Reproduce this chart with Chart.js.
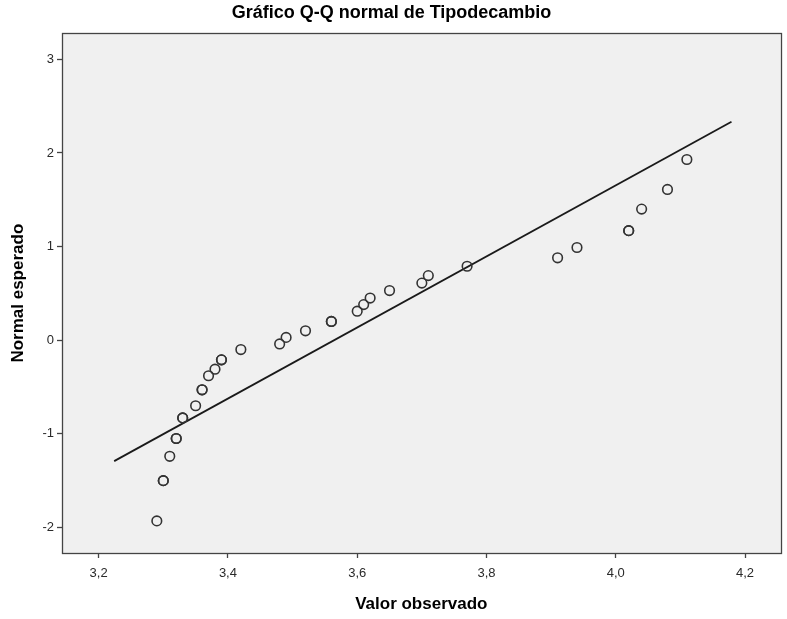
<!DOCTYPE html>
<html>
<head>
<meta charset="utf-8">
<script src="https://cdn.jsdelivr.net/npm/chart.js@4"></script>
<style>
  body { margin: 0; background: #fff; }
  canvas { display: block; }
</style>
</head>
<body>
<canvas id="qq" width="787" height="619"></canvas>
<script>
// observed values (x) and expected normal (y), duplicates drawn twice like SPSS does
const obsX = [3.29, 3.30, 3.30, 3.31, 3.32, 3.32, 3.33, 3.33, 3.35, 3.36, 3.36, 3.37, 3.38, 3.39, 3.39,
              3.42, 3.48, 3.49, 3.52, 3.56, 3.56, 3.60, 3.61, 3.62, 3.65, 3.70, 3.71, 3.77, 3.91, 3.94,
              4.02, 4.02, 4.04, 4.08, 4.11];
const expY = [-1.93, -1.50, -1.50, -1.24, -1.05, -1.05, -0.83, -0.83, -0.70, -0.53, -0.53, -0.38, -0.31, -0.21, -0.21,
              -0.10, -0.04, 0.03, 0.10, 0.20, 0.20, 0.31, 0.38, 0.45, 0.53, 0.61, 0.69, 0.79, 0.88, 0.99,
              1.17, 1.17, 1.40, 1.61, 1.93];

// reference line end points
const lineX = [3.224, 4.179];
const lineY = [-1.292, 2.333];

const xTicks = [3.2, 3.4, 3.6, 3.8, 4.0, 4.2];
const yTicks = [-2, -1, 0, 1, 2, 3];

const FONT = '"Liberation Sans", Arial, sans-serif';

const plotBox = {
    id: 'plotBox',
    beforeDraw(chart) {
        const { ctx, chartArea: a } = chart;
        ctx.save();
        ctx.fillStyle = '#F0F0F0';
        ctx.fillRect(a.left, a.top, a.right - a.left, a.bottom - a.top);
        ctx.restore();
    },
    afterDraw(chart) {
        const { ctx, chartArea: a } = chart;
        ctx.save();
        ctx.strokeStyle = '#444';
        ctx.lineWidth = 1.3;
        ctx.strokeRect(Math.round(a.left) + 0.5, Math.round(a.top) + 0.5,
                       Math.round(a.right - a.left), Math.round(a.bottom - a.top));
        ctx.restore();
    }
};

new Chart(document.getElementById('qq'), {
    type: 'scatter',
    data: {
        datasets: [
            {
                data: obsX.map((x, i) => ({ x: x, y: expY[i] })),
                pointStyle: 'circle',
                pointRadius: 4.8,
                backgroundColor: 'rgba(0,0,0,0)',
                borderColor: '#333',
                borderWidth: 1.6
            },
            {
                type: 'line',
                data: lineX.map((x, i) => ({ x: x, y: lineY[i] })),
                showLine: true,
                pointRadius: 0,
                borderColor: '#1a1a1a',
                borderWidth: 1.8,
                fill: false
            }
        ]
    },
    options: {
        responsive: false,
        animation: false,
        layout: { padding: { left: 0, right: 4, top: 0, bottom: 0 } },
        plugins: {
            legend: { display: false },
            tooltip: { enabled: false },
            title: {
                display: true,
                text: 'Gráfico Q-Q normal de Tipodecambio',
                color: '#000',
                font: { family: FONT, size: 18, weight: 'bold' },
                padding: { top: 2, bottom: 9.7 }
            }
        },
        scales: {
            x: {
                type: 'linear',
                min: 3.1433,
                max: 4.255,
                afterBuildTicks: s => { s.ticks = xTicks.map(v => ({ value: v })); },
                afterFit: s => { s.height = 66; },
                ticks: {
                    color: '#2a2a2a',
                    font: { family: FONT, size: 13 },
                    padding: 8,
                    maxRotation: 0,
                    callback: v => v.toFixed(1).replace('.', ',')
                },
                grid: { drawOnChartArea: false, drawTicks: true, tickLength: 5, tickColor: '#444', tickWidth: 1.3 },
                border: { display: false },
                title: {
                    display: true,
                    text: 'Valor observado',
                    color: '#000',
                    font: { family: FONT, size: 17, weight: 'bold' },
                    padding: { top: 0, bottom: 4 }
                }
            },
            y: {
                type: 'linear',
                min: -2.273,
                max: 3.278,
                afterBuildTicks: s => { s.ticks = yTicks.map(v => ({ value: v })); },
                afterFit: s => { s.width = 62; },
                ticks: {
                    color: '#2a2a2a',
                    font: { family: FONT, size: 13 },
                    padding: 3,
                    callback: v => String(v)
                },
                grid: { drawOnChartArea: false, drawTicks: true, tickLength: 5, tickColor: '#444', tickWidth: 1.3 },
                border: { display: false },
                title: {
                    display: true,
                    text: 'Normal esperado',
                    color: '#000',
                    font: { family: FONT, size: 17, weight: 'bold' },
                    padding: { top: 8, bottom: 0 }
                }
            }
        }
    },
    plugins: [plotBox]
});
</script>
</body>
</html>
